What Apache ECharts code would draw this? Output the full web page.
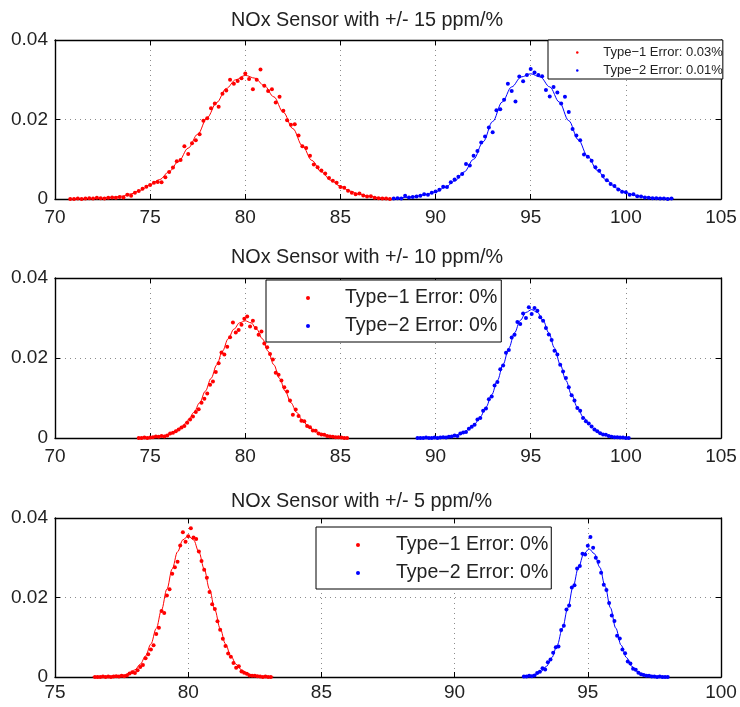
<!DOCTYPE html>
<html>
<head>
<meta charset="utf-8">
<script src="https://cdn.jsdelivr.net/npm/echarts@6/dist/echarts.min.js"></script>
<style>
  html, body { margin: 0; padding: 0; background: #fff; }
  #chart { width: 740px; height: 707px; }
</style>
</head>
<body>
<div id="chart"></div>
<script>
// ---- Data ---------------------------------------------------------------
// Panel titles and legend entries
const panelTitles = [
  'NOx Sensor with +/- 15 ppm/%',
  'NOx Sensor with +/- 10 ppm/%',
  'NOx Sensor with +/- 5 ppm/%'
];
const legend15 = ['Type\u22121 Error: 0.03%', 'Type\u22122 Error: 0.01%'];
const legend10 = ['Type\u22121 Error: 0%', 'Type\u22122 Error: 0%'];
const legend5 = ['Type\u22121 Error: 0%', 'Type\u22122 Error: 0%'];

// x-axis ranges of the three panels
const xRange15 = [70, 105];
const xRange10 = [70, 105];
const xRange5 = [75, 100];
const yRange = [0, 0.04];

// Histogram (relative frequency) of each population: first bin centre, bin width, values
const bins15Type1 = { start: 70.8, width: 0.2 };
const freq15Type1 = [
  0.0000,0.0000,0.0001,0.0000,0.0001,0.0002,0.0001,0.0003,0.0002,0.0001,
  0.0003,0.0004,0.0003,0.0005,0.0004,0.0011,0.0008,0.0016,0.0020,0.0026,
  0.0031,0.0035,0.0041,0.0043,0.0042,0.0055,0.0068,0.0079,0.0095,0.0098,
  0.0133,0.0113,0.0140,0.0148,0.0163,0.0197,0.0203,0.0228,0.0240,0.0232,
  0.0265,0.0273,0.0300,0.0290,0.0297,0.0304,0.0316,0.0302,0.0276,0.0300,
  0.0326,0.0285,0.0272,0.0276,0.0243,0.0257,0.0222,0.0198,0.0187,0.0188,
  0.0160,0.0133,0.0128,0.0109,0.0087,0.0080,0.0072,0.0064,0.0053,0.0046,
  0.0041,0.0030,0.0028,0.0021,0.0016,0.0012,0.0014,0.0009,0.0006,0.0007,
  0.0003,0.0002,0.0001,0.0001,0.0000
];
const bins15Type2 = { start: 87.8, width: 0.2 };
const freq15Type2 = [
  0.0001,0.0002,0.0001,0.0008,0.0004,0.0005,0.0006,0.0008,0.0012,0.0011,
  0.0016,0.0019,0.0023,0.0031,0.0030,0.0042,0.0049,0.0056,0.0063,0.0088,
  0.0084,0.0109,0.0121,0.0142,0.0157,0.0180,0.0168,0.0223,0.0226,0.0250,
  0.0290,0.0272,0.0245,0.0308,0.0296,0.0312,0.0327,0.0318,0.0312,0.0309,
  0.0274,0.0258,0.0282,0.0268,0.0240,0.0257,0.0219,0.0176,0.0160,0.0148,
  0.0112,0.0106,0.0096,0.0080,0.0071,0.0058,0.0047,0.0038,0.0033,0.0024,
  0.0018,0.0017,0.0011,0.0012,0.0007,0.0006,0.0004,0.0003,0.0002,0.0002,
  0.0001,0.0001,0.0000,0.0001
];
const bins10Type1 = { start: 74.4, width: 0.15 };
const freq10Type1 = [
  0.0000,0.0000,0.0001,0.0000,0.0001,0.0002,0.0004,0.0003,0.0005,0.0004,
  0.0006,0.0011,0.0013,0.0017,0.0021,0.0026,0.0030,0.0038,0.0046,0.0054,
  0.0065,0.0072,0.0088,0.0098,0.0111,0.0133,0.0141,0.0165,0.0187,0.0214,
  0.0209,0.0228,0.0252,0.0289,0.0264,0.0270,0.0283,0.0298,0.0304,0.0279,
  0.0293,0.0275,0.0258,0.0266,0.0236,0.0227,0.0210,0.0196,0.0163,0.0158,
  0.0144,0.0127,0.0116,0.0094,0.0058,0.0071,0.0055,0.0043,0.0042,0.0030,
  0.0027,0.0019,0.0018,0.0011,0.0009,0.0008,0.0005,0.0004,0.0003,0.0002,
  0.0002,0.0001,0.0000,0.0000
];
const bins10Type2 = { start: 89.05, width: 0.15 };
const freq10Type2 = [
  0.0000,0.0000,0.0000,0.0001,0.0000,0.0000,0.0001,0.0000,0.0001,0.0002,
  0.0001,0.0003,0.0004,0.0006,0.0005,0.0011,0.0014,0.0015,0.0023,0.0028,
  0.0033,0.0046,0.0050,0.0068,0.0074,0.0097,0.0104,0.0131,0.0140,0.0172,
  0.0181,0.0213,0.0220,0.0251,0.0258,0.0290,0.0285,0.0311,0.0300,0.0327,
  0.0310,0.0325,0.0318,0.0302,0.0293,0.0275,0.0259,0.0245,0.0218,0.0209,
  0.0183,0.0166,0.0150,0.0127,0.0107,0.0094,0.0075,0.0068,0.0050,0.0042,
  0.0036,0.0029,0.0021,0.0017,0.0012,0.0009,0.0008,0.0005,0.0003,0.0002,
  0.0002,0.0001,0.0001,0.0000,0.0000
];
const bins5Type1 = { start: 76.5, width: 0.1 };
const freq5Type1 = [
  0.0000,0.0000,0.0000,0.0001,0.0000,0.0001,0.0000,0.0001,0.0002,0.0001,
  0.0003,0.0002,0.0004,0.0009,0.0012,0.0010,0.0017,0.0025,0.0030,0.0047,
  0.0057,0.0069,0.0080,0.0108,0.0124,0.0166,0.0161,0.0205,0.0221,0.0260,
  0.0276,0.0290,0.0331,0.0364,0.0340,0.0354,0.0374,0.0351,0.0347,0.0316,
  0.0292,0.0270,0.0250,0.0214,0.0183,0.0171,0.0140,0.0119,0.0096,0.0078,
  0.0059,0.0051,0.0035,0.0023,0.0027,0.0014,0.0011,0.0008,0.0004,0.0003,
  0.0003,0.0002,0.0001,0.0000,0.0001,0.0000,0.0000
];
const bins5Type2 = { start: 92.6, width: 0.1 };
const freq5Type2 = [
  0.0001,0.0001,0.0003,0.0002,0.0004,0.0010,0.0013,0.0022,0.0019,0.0037,
  0.0044,0.0061,0.0075,0.0077,0.0118,0.0129,0.0170,0.0180,0.0225,0.0231,
  0.0273,0.0279,0.0310,0.0308,0.0330,0.0352,0.0325,0.0300,0.0290,0.0262,
  0.0232,0.0219,0.0186,0.0155,0.0141,0.0104,0.0097,0.0069,0.0060,0.0039,
  0.0034,0.0021,0.0018,0.0011,0.0007,0.0005,0.0003,0.0003,0.0001,0.0001,
  0.0000,0.0001,0.0000,0.0000,0.0000
];

// Fitted distribution curves: first sample, sample spacing, values
const fitGrid15Type1 = { start: 71, width: 0.5 };
const fit15Type1 = [
  0.0000,0.0001,0.0001,0.0002,0.0004,0.0007,0.0013,0.0022,0.0036,0.0049,
  0.0069,0.0095,0.0128,0.0163,0.0205,0.0243,0.0278,0.0300,0.0311,0.0304,
  0.0285,0.0257,0.0218,0.0177,0.0134,0.0097,0.0068,0.0047,0.0032,0.0020,
  0.0012,0.0007,0.0003,0.0001
];
const fitGrid15Type2 = { start: 88, width: 0.5 };
const fit15Type2 = [
  0.0002,0.0004,0.0007,0.0011,0.0018,0.0029,0.0045,0.0068,0.0100,0.0144,
  0.0195,0.0244,0.0282,0.0307,0.0315,0.0307,0.0282,0.0244,0.0197,0.0149,
  0.0107,0.0072,0.0046,0.0028,0.0016,0.0009,0.0005,0.0003,0.0002,0.0001
];
const fitGrid10Type1 = { start: 74.6, width: 0.3 };
const fit10Type1 = [
  0.0000,0.0001,0.0002,0.0004,0.0007,0.0012,0.0020,0.0030,0.0045,0.0064,
  0.0088,0.0117,0.0149,0.0183,0.0217,0.0248,0.0272,0.0288,0.0293,0.0288,
  0.0272,0.0248,0.0217,0.0183,0.0149,0.0117,0.0088,0.0064,0.0045,0.0030,
  0.0020,0.0012,0.0007,0.0004,0.0002,0.0001,0.0000
];
const fitGrid10Type2 = { start: 89.05, width: 0.3 };
const fit10Type2 = [
  0.0000,0.0000,0.0000,0.0000,0.0001,0.0002,0.0004,0.0007,0.0013,0.0022,
  0.0035,0.0053,0.0077,0.0108,0.0144,0.0184,0.0225,0.0263,0.0294,0.0314,
  0.0321,0.0314,0.0294,0.0263,0.0225,0.0184,0.0144,0.0108,0.0077,0.0053,
  0.0035,0.0022,0.0013,0.0007,0.0004,0.0002,0.0001,0.0000
];
const fitGrid5Type1 = { start: 76.4, width: 0.2 };
const fit5Type1 = [
  0.0000,0.0000,0.0000,0.0000,0.0001,0.0002,0.0005,0.0010,0.0018,0.0032,
  0.0053,0.0083,0.0122,0.0169,0.0221,0.0272,0.0315,0.0345,0.0355,0.0345,
  0.0315,0.0272,0.0221,0.0169,0.0122,0.0083,0.0053,0.0032,0.0018,0.0010,
  0.0005,0.0002,0.0001,0.0000,0.0000
];
const fitGrid5Type2 = { start: 92.65, width: 0.2 };
const fit5Type2 = [
  0.0001,0.0003,0.0007,0.0014,0.0027,0.0049,0.0080,0.0123,0.0174,0.0228,
  0.0276,0.0310,0.0322,0.0310,0.0276,0.0228,0.0174,0.0123,0.0080,0.0049,
  0.0027,0.0014,0.0007,0.0003,0.0001,0.0000,0.0000
];

// ---- Presentation --------------------------------------------------------
const FONT = '"Liberation Sans", Arial, Helvetica, sans-serif';
const TEXT = '#222';
const RED = '#ff0000';
const BLUE = '#0000ff';

// pair each value with its bin / sample centre
function toPoints(grid, values) {
  return values.map((v, i) => [+(grid.start + i * grid.width).toFixed(3), v]);
}

const panels = [
  { title: panelTitles[0], xr: xRange15, names: legend15,
    h1: toPoints(bins15Type1, freq15Type1), h2: toPoints(bins15Type2, freq15Type2),
    f1: toPoints(fitGrid15Type1, fit15Type1), f2: toPoints(fitGrid15Type2, fit15Type2) },
  { title: panelTitles[1], xr: xRange10, names: legend10,
    h1: toPoints(bins10Type1, freq10Type1), h2: toPoints(bins10Type2, freq10Type2),
    f1: toPoints(fitGrid10Type1, fit10Type1), f2: toPoints(fitGrid10Type2, fit10Type2) },
  { title: panelTitles[2], xr: xRange5, names: legend5,
    h1: toPoints(bins5Type1, freq5Type1), h2: toPoints(bins5Type2, freq5Type2),
    f1: toPoints(fitGrid5Type1, fit5Type1), f2: toPoints(fitGrid5Type2, fit5Type2) }
];

// plot-area boxes (px)
const boxes = [
  { top: 40, height: 159, titleTop: 6, labelMargin: 9 },
  { top: 278, height: 160, titleTop: 243, labelMargin: 9 },
  { top: 518, height: 159, titleTop: 487, labelMargin: 6 }
];

const tick = { show: true, inside: true, length: 5, lineStyle: { color: '#000', width: 1 } };
const frameLine = { show: true, onZero: false, lineStyle: { color: '#000', width: 1.4 } };
const dotted = { show: true, lineStyle: { color: '#8c8c8c', width: 1, type: [1, 4] } };

const grid = [], xAxis = [], yAxis = [], series = [], title = [];

panels.forEach((p, i) => {
  const b = boxes[i];
  grid.push({ left: 55, width: 666, top: b.top, height: b.height, show: false });
  title.push({
    text: p.title, left: 226, top: b.titleTop,
    textStyle: { fontFamily: FONT, fontSize: 19.8, fontWeight: 'normal', color: TEXT }
  });
  // bottom / left axes with labels, top / right axes close the frame
  xAxis.push({
    type: 'value', gridIndex: i, min: p.xr[0], max: p.xr[1], interval: 5,
    axisLine: frameLine, axisTick: tick, splitLine: dotted,
    axisLabel: { fontFamily: FONT, fontSize: 19, color: TEXT, margin: b.labelMargin }
  });
  xAxis.push({
    type: 'value', gridIndex: i, position: 'top', min: p.xr[0], max: p.xr[1], interval: 5,
    axisLine: frameLine, axisTick: tick, splitLine: { show: false }, axisLabel: { show: false }
  });
  yAxis.push({
    type: 'value', gridIndex: i, min: yRange[0], max: yRange[1], interval: 0.02,
    axisLine: frameLine, axisTick: tick, splitLine: dotted,
    axisLabel: { fontFamily: FONT, fontSize: 19, color: TEXT, margin: 7 }
  });
  yAxis.push({
    type: 'value', gridIndex: i, position: 'right', min: yRange[0], max: yRange[1], interval: 0.02,
    axisLine: frameLine, axisTick: tick, splitLine: { show: false }, axisLabel: { show: false }
  });

  const xi = 2 * i, yi = 2 * i;
  [[p.f1, RED], [p.f2, BLUE]].forEach(([data, color], k) => {
    series.push({
      type: 'line', name: 'fit-' + i + '-' + k, xAxisIndex: xi, yAxisIndex: yi,
      data, showSymbol: false, smooth: 0.35, smoothMonotone: 'x',
      lineStyle: { color, width: 1 }, z: 3, silent: true
    });
  });
  [[p.h1, RED, p.names[0]], [p.h2, BLUE, p.names[1]]].forEach(([data, color, name]) => {
    series.push({
      type: 'scatter', name, xAxisIndex: xi, yAxisIndex: yi,
      data, symbol: 'circle', symbolSize: 4,
      itemStyle: { color, opacity: 1 }, z: 4, silent: true
    });
  });
});

const legendText = size => ({ fontFamily: FONT, fontSize: size, color: TEXT });
const legend = [
  { data: legend15, orient: 'vertical', left: 548, top: 40,
    padding: [6, 0, 2, 28], itemWidth: 42, itemHeight: 2.5, itemGap: 5, icon: 'circle',
    textStyle: legendText(13), borderColor: '#000', borderWidth: 1,
    backgroundColor: '#fff', selectedMode: false, z: 10 },
  { data: legend10, orient: 'vertical', left: 266, top: 280,
    padding: [8, 4, 6, 40], itemWidth: 64, itemHeight: 4, itemGap: 8, icon: 'circle',
    textStyle: legendText(19.5), borderColor: '#000', borderWidth: 1,
    backgroundColor: '#fff', selectedMode: false, z: 10 },
  { data: legend5, orient: 'vertical', left: 316, top: 527,
    padding: [8, 3, 6, 40], itemWidth: 66, itemHeight: 4, itemGap: 8, icon: 'circle',
    textStyle: legendText(19.5), borderColor: '#000', borderWidth: 1,
    backgroundColor: '#fff', selectedMode: false, z: 10 }
];

const chart = echarts.init(document.getElementById('chart'), null, { renderer: 'canvas' });
chart.setOption({
  backgroundColor: '#fff',
  animation: false,
  title, grid, xAxis, yAxis, legend, series
});
</script>
</body>
</html>
